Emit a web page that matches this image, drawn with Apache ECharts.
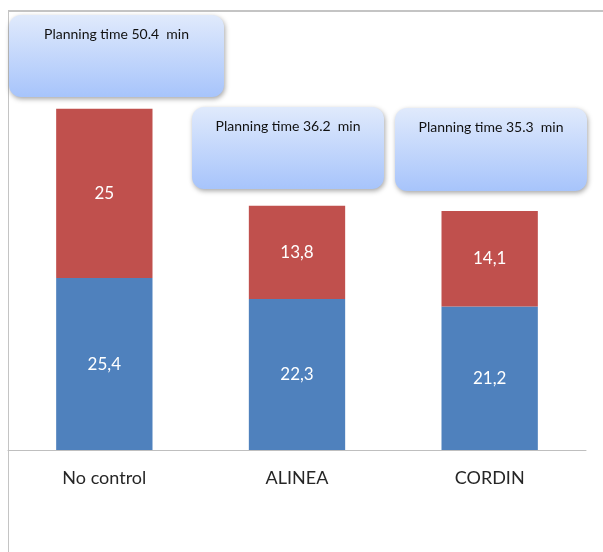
<!DOCTYPE html>
<html>
<head>
<meta charset="utf-8">
<script src="https://cdn.jsdelivr.net/npm/echarts@6/dist/echarts.min.js"></script>
<style>
html,body{margin:0;padding:0;background:#fff;}
#main{width:603px;height:552px;}
</style>
</head>
<body>
<div id="main"></div>
<script>
var categories = ['No control', 'ALINEA', 'CORDIN'];
var lowerValues = [25.4, 22.3, 21.2];
var upperValues = [25, 13.8, 14.1];
var planningTimes = [50.4, 36.2, 35.3];

var chart = echarts.init(document.getElementById('main'));
var FONT = 'Lato, "Open Sans", sans-serif';

function fmt(p){ return String(p.value).replace('.', ','); }

function callout(x, y, w, h, text){
  return {
    type: 'group',
    children: [
      {
        type: 'rect',
        shape: {x: x, y: y, width: w, height: h, r: 12},
        style: {
          fill: new echarts.graphic.LinearGradient(0, 0, 0, 1, [
            {offset: 0, color: '#e0eafc'},
            {offset: 1, color: '#a7c4fb'}
          ]),
          shadowBlur: 5,
          shadowOffsetX: 1,
          shadowOffsetY: 2,
          shadowColor: 'rgba(0,0,0,0.35)'
        }
      },
      {
        type: 'text',
        x: x + w / 2,
        y: y + 19,
        style: {
          text: text,
          fill: '#111',
          font: '14px ' + FONT,
          align: 'center',
          verticalAlign: 'middle'
        }
      }
    ]
  };
}

var valueLabel = {show: true, position: 'inside', color: '#fff', fontSize: 17, fontFamily: FONT, formatter: fmt};

chart.setOption({
  animation: false,
  grid: {left: 8, right: 17, top: 10, bottom: 102},
  xAxis: {
    type: 'category',
    data: categories,
    axisLine: {lineStyle: {color: '#bfbfbf', width: 1}},
    axisTick: {show: false},
    axisLabel: {color: '#262626', fontSize: 18, fontFamily: FONT, margin: 19}
  },
  yAxis: {type: 'value', min: 0, max: 65, show: false},
  series: [
    {
      type: 'bar',
      stack: 'total',
      data: lowerValues,
      barWidth: '50%',
      itemStyle: {color: '#4f81bd'},
      label: valueLabel
    },
    {
      type: 'bar',
      stack: 'total',
      data: upperValues,
      barWidth: '50%',
      itemStyle: {color: '#c0504d'},
      label: valueLabel
    }
  ],
  graphic: [
    {type: 'line', shape: {x1: 8, y1: 11, x2: 603, y2: 11}, style: {stroke: '#c4c4c4', lineWidth: 2}},
    {type: 'line', shape: {x1: 8.5, y1: 10, x2: 8.5, y2: 552}, style: {stroke: '#c4c4c4', lineWidth: 1}},
    callout(9, 15, 215, 82, 'Planning time ' + planningTimes[0] + '  min'),
    callout(192, 107, 192, 82, 'Planning time ' + planningTimes[1] + '  min'),
    callout(395, 108, 192, 83, 'Planning time ' + planningTimes[2] + '  min')
  ]
});
</script>
</body>
</html>
